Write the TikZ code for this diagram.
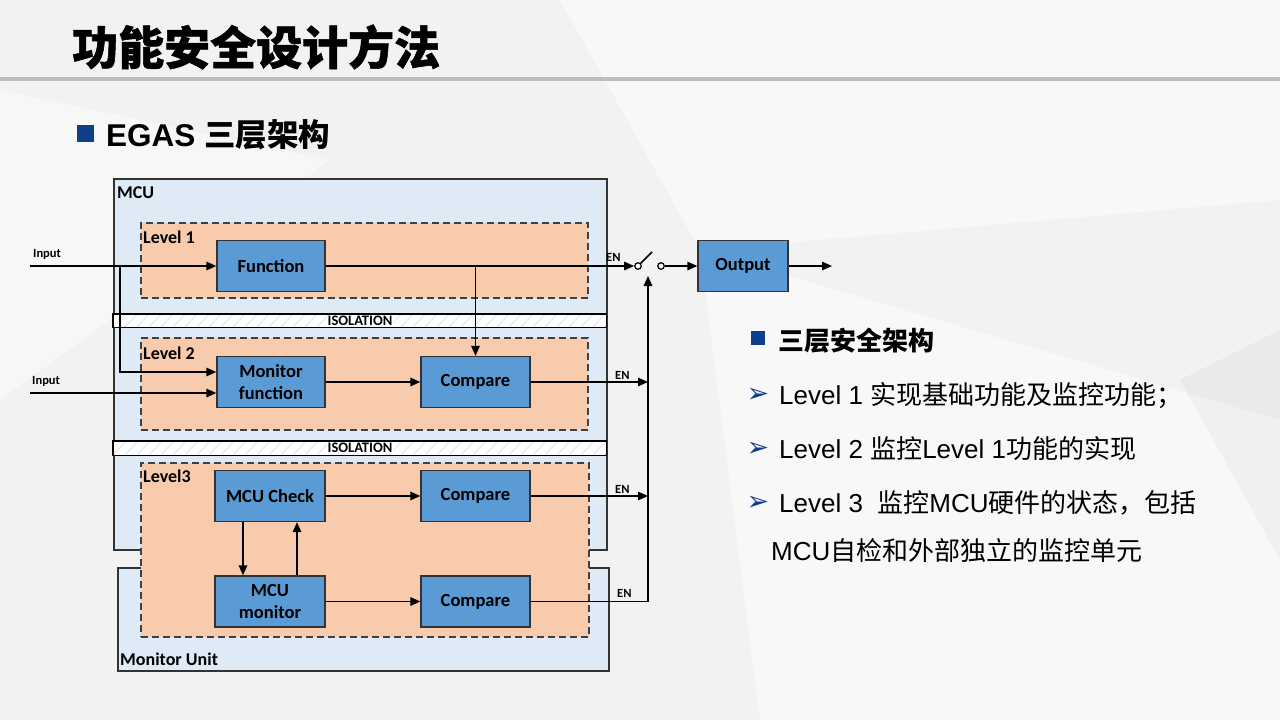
\documentclass[tikz,border=0pt]{standalone}
\usepackage{fontspec}
\setmainfont{Carlito}
\newfontfamily\cjk{Noto Sans CJK SC}
\newfontfamily\cjktit[BoldFeatures={FakeBold=1.2}]{Noto Sans CJK SC}
\newfontfamily\arial{Liberation Sans}
\newfontfamily\simb{DejaVu Sans}
\usepackage{xcolor}
\usetikzlibrary{arrows.meta}
\definecolor{fundo}{HTML}{F2F2F2}
\definecolor{azulbloco}{HTML}{5B9BD5}
\definecolor{azulmcu}{HTML}{DEEAF6}
\definecolor{pessego}{HTML}{F8CBAD}
\definecolor{azulesc}{HTML}{0E3E8C}
\definecolor{linhatitulo}{HTML}{BDBDBD}
\tikzset{
  bloco/.style={draw=black!80, fill=azulbloco, line width=1.3pt, align=center, minimum width=#1, minimum height=51pt, inner sep=0pt, font=\bfseries\fontsize{18.5}{22}\selectfont},
  bloco/.default=108pt,
  moldura/.style={draw=black!80, fill=azulmcu, line width=1.5pt, anchor=north west, inner sep=0pt},
  nivel/.style={draw=black!75, dash pattern=on 7pt off 4pt, fill=pessego, line width=1.6pt, anchor=north west, inner sep=0pt},
  isolamento/.style={fill=white, anchor=north west, inner sep=0pt, minimum width=493pt},
  hachura/.style={black!13, line width=0.7pt},
  rotulo/.style={anchor=base west, inner sep=0pt, font=\bfseries\fontsize{18}{20}\selectfont},
  pequeno/.style={anchor=base west, inner sep=0pt, font=\bfseries\fontsize{12.5}{14}\selectfont},
  seta/.style={-{Triangle[length=10pt,width=8.5pt]}, line width=1.5pt},
  linha/.style={line width=1.5pt},
  chave/.style={circle, draw, fill=white, line width=1.2pt, inner sep=0pt, minimum size=6.5pt},
  item/.style={anchor=base west, inner sep=0pt, font=\fontsize{26}{30}\selectfont},
  marca/.style={inner sep=0pt, text=azulesc, font=\simb\fontsize{27}{30}\selectfont},
}

\begin{document}
\begin{tikzpicture}[x=1pt, y=-1pt]
  % fundo do slide
  \fill[fundo] (0,0) rectangle (1280,720);
  \useasboundingbox (0,0) rectangle (1280,720);
  \fill[white, opacity=0.5] (560,0) -- (1280,0) -- (1280,200) -- (700,250) -- cycle;
  \fill[white, opacity=0.5] (700,250) -- (1280,420) -- (1280,720) -- (760,720) -- cycle;
  \fill[white, opacity=0.4] (0,90) -- (330,160) -- (0,400) -- cycle;
  \fill[black, opacity=0.03] (1180,380) -- (1280,330) -- (1280,560) -- cycle;
  \draw[linhatitulo, line width=4pt] (0,79) -- (1280,79);

  \node[anchor=west, inner sep=0pt, font=\cjktit\bfseries\fontsize{46}{50}\selectfont] (titulo) at (72,47) {功能安全设计方法};
  \node[fill=azulesc, minimum size=17pt, inner sep=0pt] (quad1) at (85.5,133.5) {};
  \node[anchor=west, inner sep=0pt, font=\bfseries\fontsize{31.5}{34}\selectfont] (sub) at (106,135) {\arial EGAS \cjk 三层架构};

  % caixas externas
  \node[moldura, minimum width=493pt, minimum height=371pt] (mcu) at (113,178) {};
  \node[moldura, minimum width=491pt, minimum height=103pt] (unidade) at (117,567) {};
  \node[isolamento, minimum height=13pt] (iso1) at (113,314) {};
  \node[isolamento, minimum height=14pt] (iso2) at (113,441) {};
  \begin{scope}
    \clip (iso1.south west) rectangle (iso1.north east);
    \foreach \x in {100,112,...,620} \draw[hachura] (\x,328) -- (\x+14,313);
  \end{scope}
  \begin{scope}
    \clip (iso2.south west) rectangle (iso2.north east);
    \foreach \x in {100,112,...,620} \draw[hachura] (\x,456) -- (\x+15,440);
  \end{scope}
  \draw[line width=1.3pt] (iso1.south west) rectangle (iso1.north east);
  \draw[line width=1.3pt] (iso2.south west) rectangle (iso2.north east);
  \node[nivel, minimum width=447pt, minimum height=75pt] (nivel1) at (140,222) {};
  \node[nivel, minimum width=447pt, minimum height=92pt] (nivel2) at (140,337) {};
  \node[nivel, minimum width=448pt, minimum height=174pt] (nivel3) at (140,462) {};

  \node[rotulo] (lmcu) at (117,198) {MCU};
  \node[rotulo] (lunid) at (120,665) {Monitor Unit};
  \node[rotulo] (lniv1) at (143,243) {Level 1};
  \node[rotulo] (lniv2) at (143,359) {Level 2};
  \node[rotulo] (lniv3) at (143,482) {Level3};
  \node[fill=white, inner sep=0.5pt, font=\bfseries\fontsize{14.5}{15}\selectfont] (tiso1) at (360,321) {ISOLATION};
  \node[fill=white, inner sep=0.5pt, font=\bfseries\fontsize{14.5}{15}\selectfont] (tiso2) at (360,448) {ISOLATION};

  % blocos
  \node[bloco] (func) at (271,266) {Function};
  \node[bloco] (monf) at (271,382) {Monitor\\function};
  \node[bloco=109pt] (cmp1) at (475.5,382) {Compare};
  \node[bloco=110pt] (chk) at (270,496) {MCU Check};
  \node[bloco=109pt] (cmp2) at (475.5,496) {Compare};
  \node[bloco=110pt] (mmon) at (270,601.5) {MCU\\monitor};
  \node[bloco=109pt] (cmp3) at (475.5,601.5) {Compare};
  \node[bloco=90pt] (saida) at (743,266) {Output};

  \node[pequeno] (tin1) at (33,257) {Input};
  \node[pequeno] (tin2) at (32,384) {Input};
  \node[pequeno] (en1) at (606,261) {EN};
  \node[pequeno] (en2) at (615,379) {EN};
  \node[pequeno] (en3) at (615,493) {EN};
  \node[pequeno] (en4) at (617,597) {EN};

  % chave
  \node[chave] (sw1) at (638,266) {};
  \node[chave] (sw2) at (661,266) {};
  \coordinate (alav) at (652,252);
  \draw[linha] (sw1.north east) -- (alav);

  \coordinate (in1) at (30,266);
  \coordinate (in2) at (30,393);
  \coordinate (ramo) at (120,266);
  \coordinate (bus) at (648,601.5);
  \coordinate (swb) at (648,276);
  \coordinate (fim) at (832,266);

  % ligacoes
  \draw[seta] (in1) -- (func.west);
  \draw[seta] (ramo) |- ([yshift=10pt]monf.west);
  \draw[seta] (in2) -- (in2 -| monf.west);
  \draw[seta] (func.east) -- (sw1.west);
  \draw[seta] (cmp1.north |- func.east) -- (cmp1.north);
  \draw[seta] (monf.east) -- (cmp1.west);
  \draw[seta] (cmp1.east) -- (cmp1.east -| bus);
  \draw[seta] (chk.east) -- (cmp2.west);
  \draw[seta] (cmp2.east) -- (cmp2.east -| bus);
  \draw[seta] (mmon.east) -- (cmp3.west);
  \draw[seta] (cmp3.east) -- (bus) -- (swb);
  \draw[seta] ([xshift=-27pt]chk.south) -- ([xshift=-27pt]mmon.north);
  \draw[seta] ([xshift=27pt]mmon.north) -- ([xshift=27pt]chk.south);
  \draw[seta] (sw2.east) -- (saida.west);
  \draw[seta] (saida.east) -- (fim);

  % texto a direita
  \node[fill=azulesc, minimum size=14pt, inner sep=0pt] (quad2) at (758,338) {};
  \node[anchor=west, inner sep=0pt, font=\cjk\bfseries\fontsize{26}{30}\selectfont] (tit2) at (778,341) {三层安全架构};
  \node[marca] (b1) at (758,395) {➢};
  \node[marca] (b2) at (758,449) {➢};
  \node[marca] (b3) at (758,503) {➢};
  \node[item] (t1) at (779,404) {\arial Level 1 \cjk 实现基础功能及监控功能；};
  \node[item] (t2) at (779,458) {\arial Level 2 \cjk 监控\arial Level 1\cjk 功能的实现};
  \node[item] (t3) at (779,512) {\arial Level 3\ \ \cjk 监控\arial MCU\cjk 硬件的状态，包括};
  \node[item] (t4) at (771,560) {\arial MCU\cjk 自检和外部独立的监控单元};
\end{tikzpicture}
\end{document}
